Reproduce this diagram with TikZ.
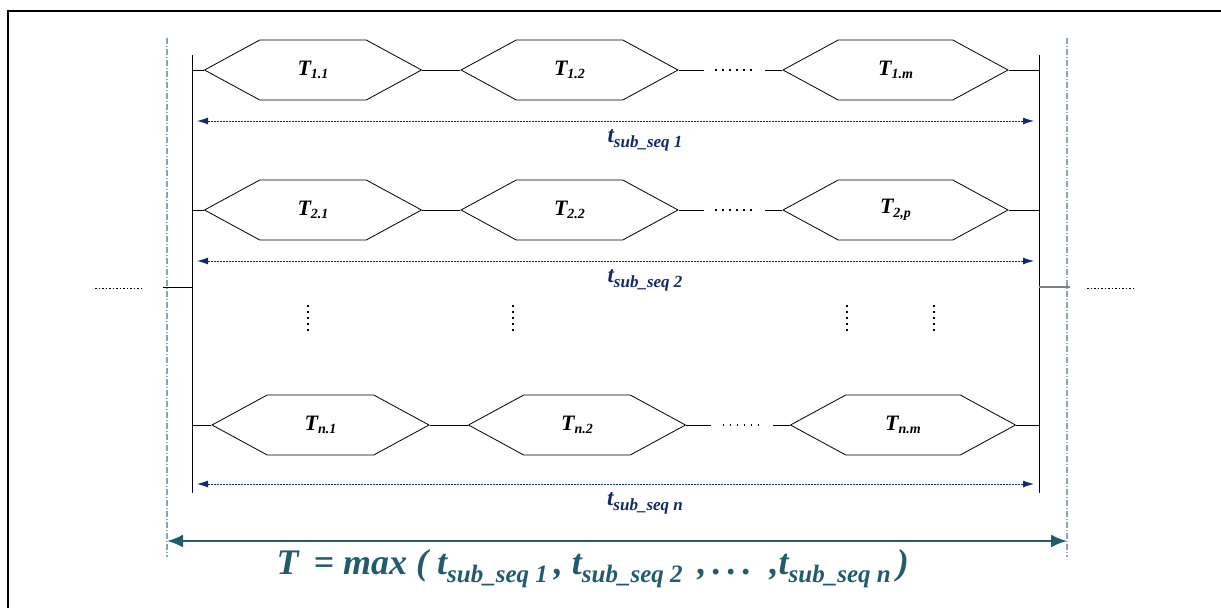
\documentclass[tikz,border=0pt]{standalone}
\usepackage{fontspec}
\setmainfont{Liberation Serif}
\usetikzlibrary{arrows.meta}
\usetikzlibrary{shapes.symbols}
\definecolor{navy}{HTML}{13296B}
\definecolor{tealdark}{HTML}{225B6B}
\definecolor{guide}{HTML}{8BA6B2}
% T with a subscript, for the boxes
\newcommand{\tbox}[1]{T\raisebox{-3.5pt}{\fontsize{14}{14}\selectfont #1}}
% t with sub_seq index: size of t, size of index, drop, index
\newcommand{\tsq}[4]{{\fontsize{#1}{#1}\selectfont t}\raisebox{-#3pt}{\fontsize{#2}{#2}\selectfont sub\_seq #4}}

\begin{document}
\begin{tikzpicture}[x=1pt,y=-1pt,line width=0.8pt]
	\tikzstyle{task}=[draw,signal,signal to=west and east,signal pointer angle=57,
		minimum width=217pt,minimum height=60pt,inner sep=0pt,
		font=\bfseries\itshape\fontsize{22}{22}\selectfont];
	\tikzstyle{span}=[navy,dash pattern=on 1pt off 0.5pt,{Latex[length=11pt,width=7pt]}-{Latex[length=11pt,width=7pt]}];
	\tikzstyle{dots}=[line width=1.5pt,dash pattern=on 1.5pt off 5.5pt];
	\useasboundingbox (0,0) rectangle (1221,608);
	%% Frame
	\draw[line width=2.5pt] (1221,11) -- (8,11) -- (8,608);
	%% Guides and bars
	\draw[guide,line width=1.2pt,dash pattern=on 6pt off 2pt on 1pt off 2pt] (167,38) -- (167,557);
	\draw[guide,line width=1.2pt,dash pattern=on 6pt off 2pt on 1pt off 2pt] (1067,38) -- (1067,557);
	\draw (192,55) -- (192,493);
	\draw (1039,55) -- (1039,493);
	\draw (163,287) -- (192,287);
	\draw[gray,line width=1.5pt] (1039,287) -- (1070,287);
	\draw[line width=1pt,dash pattern=on 1.5pt off 2pt] (95,288) -- (143,288);
	\draw[line width=1pt,dash pattern=on 1.5pt off 2pt] (1087,288) -- (1136,288);
	%% Rows
	\foreach \r/\y/\last/\o/\a in {1/70/{.m}/0/51, 2/210/{,p}/0/51, n/425/{.m}/7.5/59}{
		\node[task] (T\r1) at (313+\o,\y)   {\tbox{\r.1}};
		\node[task] (T\r2) at (569.5+\o,\y) {\tbox{\r.2}};
		\node[task,minimum width=225pt] (T\r3) at (895.5+\o,\y) {\tbox{\r\last}};
		\coordinate (L\r) at (192,\y);
		\coordinate (R\r) at (1039,\y);
		\draw (L\r) -- (T\r1.west);
		\draw (T\r1.east) -- (T\r2.west);
		\draw (T\r2.east) -- ++(25,0);
		\draw[dots] (715+\o,\y) -- (756+\o,\y);
		\draw (T\r3.west) -- ++(-17,0);
		\draw (T\r3.east) -- (R\r);
		%% span arrow
		\coordinate (AL\r) at (197,\y+\a);
		\coordinate (AR\r) at (1034,\y+\a);
		\draw[span] (AL\r) -- (AR\r);
		\node[navy,font=\bfseries\itshape] (S\r) at (645,\y+\a+19) {\tsq{23}{17}{5}{\r}};
	}
	%% Vertical dots
	\foreach \x in {308,513,847,934}
		\draw[line width=1.5pt,dash pattern=on 1.5pt off 4.5pt] (\x,305) -- (\x,332);
	%% Total
	\draw[tealdark,line width=2.2pt,{Latex[length=16pt,width=13pt]}-{Latex[length=16pt,width=13pt]}]
		(167,541) coordinate (TL) -- (1067,541) coordinate (TR);
	\node[tealdark,font=\bfseries\itshape,anchor=west] (Tmax) at (273,569)
		{{\fontsize{36}{36}\selectfont T \,= max ( }\tsq{36}{25}{8}{1}{\fontsize{36}{36}\selectfont\,, }\tsq{36}{25}{8}{2}{\fontsize{36}{36}\selectfont\, ,\,\textbf{.\,.\,.}\, ,}\tsq{36}{25}{8}{n}{\fontsize{36}{36}\selectfont\,)}};
\end{tikzpicture}
\end{document}
